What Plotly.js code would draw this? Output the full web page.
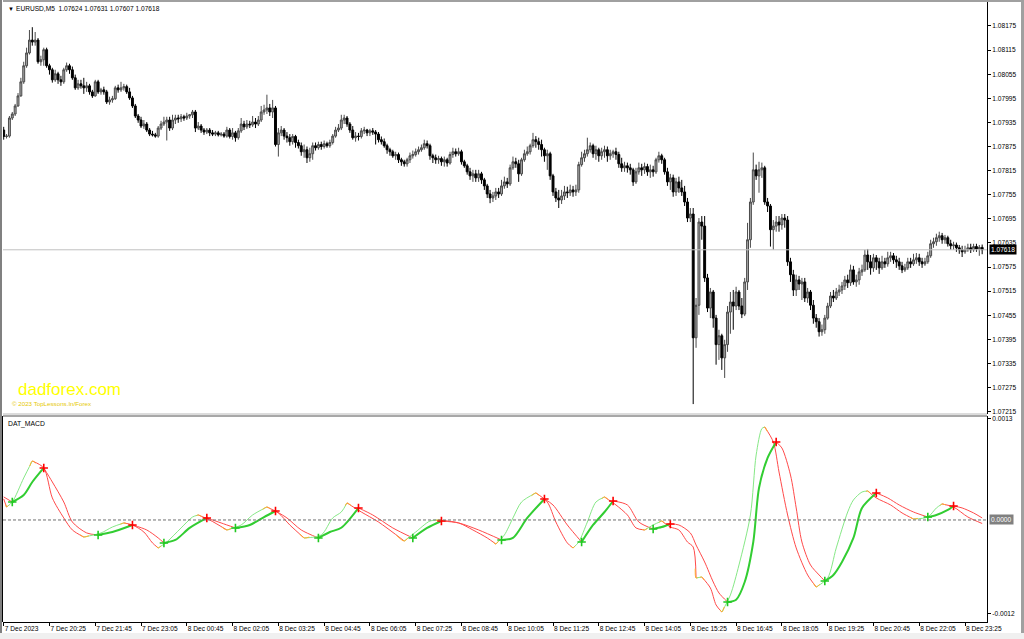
<!DOCTYPE html>
<html><head><meta charset="utf-8">
<script src="https://cdn.plot.ly/plotly-3.0.1.min.js"></script>
<style>html,body{margin:0;padding:0;background:#fff;overflow:hidden}#chart{width:1024px;height:639px}</style>
</head><body><div id="chart"></div>
<script>
// ---------------- DATA ----------------
const symbolTitle = "EURUSD,M5  1.07624 1.07631 1.07607 1.07618";
const lastPrice = 1.07618;

const openPrice = [
1.07916,1.07900,1.07901,1.07946,1.07956,1.07976,1.08001,1.08036,1.08076,1.08108,
1.08140,1.08135,1.08140,1.08086,1.08091,1.08116,1.08076,1.08066,1.08041,1.08056,
1.08041,1.08036,1.08066,1.08076,1.08066,1.08046,1.08021,1.08031,1.08026,1.08021,
1.08026,1.08011,1.08001,1.08036,1.08011,1.08016,1.08011,1.07986,1.07991,1.07994,
1.08021,1.08016,1.08021,1.08024,1.08011,1.07996,1.07976,1.07951,1.07941,1.07926,
1.07931,1.07916,1.07906,1.07904,1.07901,1.07921,1.07931,1.07936,1.07941,1.07921,
1.07941,1.07946,1.07944,1.07949,1.07946,1.07951,1.07954,1.07961,1.07921,1.07926,
1.07916,1.07911,1.07916,1.07909,1.07906,1.07909,1.07904,1.07906,1.07901,1.07916,
1.07900,1.07909,1.07897,1.07914,1.07931,1.07924,1.07931,1.07929,1.07936,1.07931,
1.07941,1.07961,1.07966,1.07971,1.07961,1.07971,1.07880,1.07909,1.07916,1.07901,
1.07897,1.07887,1.07900,1.07885,1.07877,1.07862,1.07867,1.07847,1.07857,1.07877,
1.07872,1.07880,1.07875,1.07882,1.07877,1.07885,1.07901,1.07916,1.07921,1.07941,
1.07946,1.07931,1.07916,1.07897,1.07901,1.07900,1.07914,1.07916,1.07909,1.07914,
1.07911,1.07906,1.07892,1.07887,1.07877,1.07867,1.07862,1.07852,1.07855,1.07842,
1.07837,1.07832,1.07842,1.07852,1.07855,1.07862,1.07867,1.07872,1.07882,1.07877,
1.07852,1.07847,1.07842,1.07845,1.07837,1.07842,1.07834,1.07855,1.07862,1.07857,
1.07862,1.07837,1.07827,1.07812,1.07802,1.07807,1.07797,1.07807,1.07792,1.07777,
1.07757,1.07747,1.07752,1.07762,1.07757,1.07777,1.07787,1.07782,1.07822,1.07837,
1.07832,1.07807,1.07842,1.07857,1.07862,1.07877,1.07892,1.07887,1.07880,1.07867,
1.07852,1.07857,1.07802,1.07762,1.07747,1.07742,1.07752,1.07762,1.07760,1.07767,
1.07762,1.07767,1.07830,1.07847,1.07857,1.07867,1.07877,1.07857,1.07867,1.07852,
1.07862,1.07867,1.07852,1.07857,1.07862,1.07855,1.07832,1.07822,1.07827,1.07822,
1.07817,1.07787,1.07812,1.07822,1.07817,1.07825,1.07812,1.07817,1.07812,1.07842,
1.07852,1.07842,1.07812,1.07787,1.07797,1.07762,1.07787,1.07772,1.07762,1.07737,
1.07697,1.07707,1.07399,1.07480,1.07687,1.07677,1.07548,1.07473,1.07513,1.07448,
1.07382,1.07404,1.07349,1.07382,1.07463,1.07488,1.07478,1.07513,1.07478,1.07458,
1.07538,1.07643,1.07737,1.07817,1.07802,1.07817,1.07822,1.07737,1.07727,1.07668,
1.07677,1.07687,1.07680,1.07697,1.07692,1.07588,1.07556,1.07518,1.07543,1.07533,
1.07538,1.07498,1.07513,1.07480,1.07448,1.07439,1.07414,1.07419,1.07448,1.07478,
1.07503,1.07498,1.07513,1.07518,1.07528,1.07543,1.07536,1.07568,1.07538,1.07543,
1.07563,1.07568,1.07605,1.07588,1.07573,1.07598,1.07588,1.07573,1.07588,1.07583,
1.07598,1.07603,1.07593,1.07588,1.07578,1.07568,1.07573,1.07588,1.07583,1.07593,
1.07598,1.07588,1.07583,1.07588,1.07603,1.07633,1.07638,1.07648,1.07653,1.07643,
1.07648,1.07633,1.07628,1.07630,1.07623,1.07618,1.07613,1.07618,1.07623,1.07618,
1.07626,1.07620,1.07624];

const highPrice = [
1.07924,1.07906,1.07951,1.07961,1.07981,1.08008,1.08046,1.08086,1.08121,1.08165,
1.08172,1.08160,1.08145,1.08101,1.08121,1.08121,1.08081,1.08071,1.08066,1.08061,
1.08051,1.08071,1.08084,1.08081,1.08074,1.08054,1.08041,1.08041,1.08046,1.08036,
1.08031,1.08016,1.08041,1.08041,1.08021,1.08024,1.08016,1.07999,1.08001,1.08026,
1.08029,1.08036,1.08031,1.08029,1.08021,1.08001,1.07981,1.07956,1.07949,1.07941,
1.07936,1.07921,1.07914,1.07909,1.07926,1.07939,1.07949,1.07949,1.07949,1.07954,
1.07954,1.07954,1.07956,1.07954,1.07959,1.07956,1.07966,1.07966,1.07936,1.07931,
1.07921,1.07921,1.07921,1.07916,1.07914,1.07914,1.07911,1.07911,1.07924,1.07921,
1.07921,1.07914,1.07921,1.07946,1.07939,1.07941,1.07939,1.07951,1.07946,1.07951,
1.07976,1.07979,1.08004,1.07981,1.07991,1.07976,1.07921,1.07926,1.07921,1.07911,
1.07906,1.07906,1.07904,1.07892,1.07885,1.07880,1.07875,1.07872,1.07885,1.07885,
1.07887,1.07887,1.07890,1.07887,1.07892,1.07906,1.07924,1.07931,1.07954,1.07954,
1.07951,1.07936,1.07926,1.07911,1.07909,1.07921,1.07924,1.07919,1.07919,1.07921,
1.07916,1.07911,1.07900,1.07895,1.07882,1.07872,1.07867,1.07862,1.07860,1.07847,
1.07842,1.07847,1.07860,1.07865,1.07870,1.07875,1.07880,1.07892,1.07890,1.07882,
1.07857,1.07855,1.07852,1.07850,1.07850,1.07847,1.07862,1.07872,1.07870,1.07872,
1.07867,1.07842,1.07832,1.07822,1.07817,1.07817,1.07817,1.07812,1.07797,1.07782,
1.07767,1.07762,1.07772,1.07772,1.07792,1.07800,1.07797,1.07830,1.07850,1.07847,
1.07842,1.07847,1.07867,1.07875,1.07882,1.07909,1.07901,1.07897,1.07892,1.07872,
1.07867,1.07862,1.07807,1.07772,1.07767,1.07767,1.07777,1.07775,1.07780,1.07777,
1.07780,1.07837,1.07862,1.07867,1.07897,1.07885,1.07882,1.07877,1.07872,1.07872,
1.07877,1.07875,1.07867,1.07867,1.07872,1.07862,1.07847,1.07837,1.07835,1.07832,
1.07822,1.07822,1.07835,1.07832,1.07835,1.07832,1.07830,1.07827,1.07847,1.07862,
1.07857,1.07847,1.07822,1.07807,1.07805,1.07797,1.07800,1.07792,1.07777,1.07747,
1.07722,1.07722,1.07498,1.07697,1.07702,1.07702,1.07558,1.07523,1.07518,1.07456,
1.07419,1.07409,1.07394,1.07478,1.07513,1.07518,1.07526,1.07518,1.07498,1.07548,
1.07685,1.07747,1.07860,1.07830,1.07837,1.07835,1.07827,1.07747,1.07732,1.07692,
1.07702,1.07702,1.07707,1.07707,1.07702,1.07598,1.07568,1.07556,1.07553,1.07548,
1.07548,1.07523,1.07518,1.07493,1.07458,1.07448,1.07432,1.07456,1.07486,1.07513,
1.07518,1.07523,1.07531,1.07538,1.07553,1.07556,1.07581,1.07578,1.07556,1.07573,
1.07581,1.07618,1.07620,1.07605,1.07608,1.07605,1.07598,1.07603,1.07598,1.07613,
1.07613,1.07610,1.07603,1.07598,1.07588,1.07583,1.07598,1.07598,1.07608,1.07610,
1.07608,1.07598,1.07598,1.07613,1.07643,1.07648,1.07658,1.07663,1.07660,1.07655,
1.07653,1.07643,1.07638,1.07636,1.07630,1.07628,1.07628,1.07633,1.07633,1.07633,
1.07633,1.07630,1.07631];

const lowPrice = [
1.07892,1.07895,1.07897,1.07941,1.07951,1.07974,1.07999,1.08031,1.08071,1.08104,
1.08126,1.08126,1.08081,1.08076,1.08076,1.08071,1.08054,1.08034,1.08036,1.08031,
1.08026,1.08031,1.08061,1.08056,1.08041,1.08016,1.08016,1.08019,1.08006,1.08011,
1.08004,1.07996,1.07999,1.08006,1.08004,1.08004,1.07981,1.07979,1.07984,1.07991,
1.08009,1.08011,1.08014,1.08006,1.07991,1.07971,1.07946,1.07934,1.07921,1.07919,
1.07911,1.07901,1.07900,1.07897,1.07897,1.07916,1.07926,1.07890,1.07914,1.07916,
1.07931,1.07934,1.07936,1.07939,1.07941,1.07944,1.07946,1.07911,1.07916,1.07909,
1.07904,1.07906,1.07901,1.07901,1.07901,1.07900,1.07900,1.07897,1.07897,1.07895,
1.07892,1.07887,1.07892,1.07909,1.07916,1.07919,1.07921,1.07924,1.07921,1.07926,
1.07936,1.07954,1.07956,1.07951,1.07946,1.07875,1.07850,1.07901,1.07892,1.07885,
1.07877,1.07880,1.07872,1.07870,1.07852,1.07847,1.07834,1.07837,1.07842,1.07865,
1.07867,1.07867,1.07870,1.07872,1.07872,1.07880,1.07897,1.07911,1.07916,1.07931,
1.07924,1.07909,1.07892,1.07887,1.07890,1.07895,1.07906,1.07901,1.07901,1.07904,
1.07880,1.07885,1.07880,1.07872,1.07857,1.07852,1.07847,1.07842,1.07834,1.07827,
1.07825,1.07825,1.07834,1.07845,1.07850,1.07855,1.07862,1.07867,1.07870,1.07842,
1.07834,1.07832,1.07832,1.07827,1.07825,1.07825,1.07830,1.07847,1.07850,1.07852,
1.07830,1.07822,1.07805,1.07792,1.07787,1.07787,1.07787,1.07782,1.07767,1.07747,
1.07734,1.07737,1.07742,1.07747,1.07752,1.07770,1.07772,1.07777,1.07817,1.07822,
1.07787,1.07802,1.07837,1.07852,1.07855,1.07872,1.07872,1.07867,1.07850,1.07837,
1.07817,1.07792,1.07752,1.07737,1.07722,1.07732,1.07742,1.07747,1.07752,1.07750,
1.07752,1.07760,1.07825,1.07837,1.07850,1.07860,1.07847,1.07842,1.07837,1.07842,
1.07847,1.07837,1.07842,1.07847,1.07842,1.07822,1.07812,1.07812,1.07810,1.07805,
1.07777,1.07782,1.07805,1.07802,1.07807,1.07802,1.07797,1.07800,1.07807,1.07835,
1.07832,1.07805,1.07777,1.07767,1.07750,1.07752,1.07760,1.07752,1.07727,1.07687,
1.07687,1.07234,1.07374,1.07456,1.07643,1.07538,1.07463,1.07448,1.07424,1.07332,
1.07344,1.07319,1.07299,1.07364,1.07409,1.07419,1.07468,1.07468,1.07448,1.07453,
1.07518,1.07623,1.07730,1.07792,1.07760,1.07797,1.07730,1.07712,1.07626,1.07618,
1.07663,1.07663,1.07668,1.07673,1.07578,1.07538,1.07503,1.07503,1.07518,1.07493,
1.07488,1.07486,1.07468,1.07434,1.07424,1.07402,1.07404,1.07409,1.07444,1.07473,
1.07488,1.07493,1.07503,1.07508,1.07518,1.07523,1.07528,1.07531,1.07526,1.07531,
1.07553,1.07563,1.07568,1.07556,1.07563,1.07568,1.07558,1.07568,1.07573,1.07576,
1.07588,1.07583,1.07573,1.07568,1.07560,1.07563,1.07568,1.07573,1.07578,1.07583,
1.07578,1.07573,1.07578,1.07583,1.07598,1.07623,1.07628,1.07638,1.07633,1.07633,
1.07626,1.07618,1.07618,1.07613,1.07608,1.07600,1.07608,1.07613,1.07610,1.07613,
1.07613,1.07603,1.07607];

const closePrice = [
1.07900,1.07901,1.07946,1.07956,1.07976,1.08001,1.08036,1.08076,1.08108,1.08140,
1.08135,1.08140,1.08086,1.08091,1.08116,1.08076,1.08066,1.08041,1.08056,1.08041,
1.08036,1.08066,1.08076,1.08066,1.08046,1.08021,1.08031,1.08026,1.08021,1.08026,
1.08011,1.08001,1.08036,1.08011,1.08016,1.08011,1.07986,1.07991,1.07994,1.08021,
1.08016,1.08021,1.08024,1.08011,1.07996,1.07976,1.07951,1.07941,1.07926,1.07931,
1.07916,1.07906,1.07904,1.07901,1.07921,1.07931,1.07936,1.07941,1.07921,1.07941,
1.07946,1.07944,1.07949,1.07946,1.07951,1.07954,1.07961,1.07921,1.07926,1.07916,
1.07911,1.07916,1.07909,1.07906,1.07909,1.07904,1.07906,1.07901,1.07916,1.07900,
1.07909,1.07897,1.07914,1.07931,1.07924,1.07931,1.07929,1.07936,1.07931,1.07941,
1.07961,1.07966,1.07971,1.07961,1.07971,1.07880,1.07909,1.07916,1.07901,1.07897,
1.07887,1.07900,1.07885,1.07877,1.07862,1.07867,1.07847,1.07857,1.07877,1.07872,
1.07880,1.07875,1.07882,1.07877,1.07885,1.07901,1.07916,1.07921,1.07941,1.07946,
1.07931,1.07916,1.07897,1.07901,1.07900,1.07914,1.07916,1.07909,1.07914,1.07911,
1.07906,1.07892,1.07887,1.07877,1.07867,1.07862,1.07852,1.07855,1.07842,1.07837,
1.07832,1.07842,1.07852,1.07855,1.07862,1.07867,1.07872,1.07882,1.07877,1.07852,
1.07847,1.07842,1.07845,1.07837,1.07842,1.07834,1.07855,1.07862,1.07857,1.07862,
1.07837,1.07827,1.07812,1.07802,1.07807,1.07797,1.07807,1.07792,1.07777,1.07757,
1.07747,1.07752,1.07762,1.07757,1.07777,1.07787,1.07782,1.07822,1.07837,1.07832,
1.07807,1.07842,1.07857,1.07862,1.07877,1.07892,1.07887,1.07880,1.07867,1.07852,
1.07857,1.07802,1.07762,1.07747,1.07742,1.07752,1.07762,1.07760,1.07767,1.07762,
1.07767,1.07830,1.07847,1.07857,1.07867,1.07877,1.07857,1.07867,1.07852,1.07862,
1.07867,1.07852,1.07857,1.07862,1.07855,1.07832,1.07822,1.07827,1.07822,1.07817,
1.07787,1.07812,1.07822,1.07817,1.07825,1.07812,1.07817,1.07812,1.07842,1.07852,
1.07842,1.07812,1.07787,1.07797,1.07762,1.07787,1.07772,1.07762,1.07737,1.07697,
1.07707,1.07399,1.07480,1.07687,1.07677,1.07548,1.07473,1.07513,1.07448,1.07382,
1.07404,1.07349,1.07382,1.07463,1.07488,1.07478,1.07513,1.07478,1.07458,1.07538,
1.07643,1.07737,1.07817,1.07802,1.07817,1.07822,1.07737,1.07727,1.07668,1.07677,
1.07687,1.07680,1.07697,1.07692,1.07588,1.07556,1.07518,1.07543,1.07533,1.07538,
1.07498,1.07513,1.07480,1.07448,1.07439,1.07414,1.07419,1.07448,1.07478,1.07503,
1.07498,1.07513,1.07518,1.07528,1.07543,1.07536,1.07568,1.07538,1.07543,1.07563,
1.07568,1.07605,1.07588,1.07573,1.07598,1.07588,1.07573,1.07588,1.07583,1.07598,
1.07603,1.07593,1.07588,1.07578,1.07568,1.07573,1.07588,1.07583,1.07593,1.07598,
1.07588,1.07583,1.07588,1.07603,1.07633,1.07638,1.07648,1.07653,1.07643,1.07648,
1.07633,1.07628,1.07630,1.07623,1.07618,1.07613,1.07618,1.07623,1.07618,1.07626,
1.07620,1.07624,1.07618];

// MACD (fast line, leading) sampled at bar indices
const macdIdx = [0,1,3,7,10,14,17,21,24,28,34,38,42,45,49,52,54,57,62,66,68,72,78,83,87,92,96,100,105,111,115,118,120,125,131,140,144,149,152,159,164,169,172,175,178,181,186,190,193,197,199,201,204,207,210,214,218,221,224,227,230,233,236,239,241,242,244,247,249,251,254,257,261,263,265,266,269,271,274,277,281,284,288,291,295,297,300,302,305,310,314,318,323,326,328,332,337,342];
const macdVal = [0.00027,0.000166,0.00023,0.000538,0.000755,0.000666,0.000282,0.000026,-0.000128,-0.000218,-0.000166,-0.00009,-0.000038,-0.000064,-0.000154,-0.000294,-0.000358,-0.000282,-0.000102,0.000038,0.000064,0,-0.000128,-0.000064,0.000064,0.000166,0.00009,-0.000064,-0.00023,-0.000192,0.000026,0.000102,0.000218,0.000102,-0.000026,-0.000269,-0.000154,-0.000013,0.0,-0.000038,-0.000128,-0.00023,-0.000307,-0.000192,0.000026,0.00023,0.000346,0.00023,-0.000026,-0.000294,-0.000358,-0.000282,-0.000026,0.00023,0.000294,0.000192,0.000064,-0.000102,-0.000128,-0.000064,-0.000013,-0.00009,-0.000128,-0.000282,-0.000346,-0.000742,-0.00073,-0.00087,-0.001088,-0.001178,-0.00096,-0.000576,0.000064,0.000832,0.00117,0.00119,0.000998,0.000614,0.000064,-0.000358,-0.000704,-0.000858,-0.000742,-0.000358,0.000102,0.000256,0.000358,0.000371,0.000282,0.000192,0.00009,0.000013,0.000038,0.000154,0.000205,0.000166,0.000038,-0.000045];
// Signal line (lagging) sampled at bar indices
const signalIdx = [0,3,7,10,14,17,21,24,29,33,38,45,50,54,56,60,65,71,76,81,86,91,95,99,104,110,114,118,124,129,136,143,148,153,159,166,174,178,183,189,192,197,202,206,210,213,218,222,227,230,233,236,240,242,245,248,250,253,256,259,262,264,267,270,272,275,277,279,282,285,287,290,293,297,300,305,309,313,318,323,326,330,332,335,339,342];
const signalVal = [0.000295,0.00023,0.00032,0.000486,0.000666,0.000486,0.00023,-0.000026,-0.000166,-0.000192,-0.000154,-0.000064,-0.000128,-0.00023,-0.000294,-0.000256,-0.000102,0.000026,-0.000038,-0.000102,-0.000064,0.000038,0.000115,0.000026,-0.000128,-0.00023,-0.000154,-0.0001,0.000154,0.000064,-0.000102,-0.00023,-0.000102,-0.000013,-0.000038,-0.000128,-0.000256,-0.00023,0.000026,0.000269,0.000192,-0.000064,-0.000282,-0.000064,0.000102,0.000243,0.000192,-0.000026,-0.000115,-0.00009,-0.000051,-0.000064,-0.000166,-0.00032,-0.000538,-0.000794,-0.000934,-0.00105,-0.00102,-0.000794,-0.000282,0.00041,0.000794,0.000998,0.000922,0.000576,0.000154,-0.000282,-0.000576,-0.000704,-0.000781,-0.000704,-0.000538,-0.00023,0.000154,0.000346,0.000282,0.000192,0.000102,0.000038,0.000064,0.000128,0.000179,0.000154,0.00009,0.000026];

const timeTickIdx = [0,16,32,48,64,80,96,112,128,144,160,176,192,208,224,240,256,272,288,304,320,336];
const timeTickText = ['7 Dec 2023','7 Dec 20:25','7 Dec 21:45','7 Dec 23:05','8 Dec 00:45','8 Dec 02:05','8 Dec 03:25','8 Dec 04:45','8 Dec 06:05','8 Dec 07:25','8 Dec 08:45','8 Dec 10:05','8 Dec 11:25','8 Dec 12:45','8 Dec 14:05','8 Dec 15:25','8 Dec 16:45','8 Dec 18:05','8 Dec 19:25','8 Dec 20:45','8 Dec 22:05','8 Dec 23:25'];
const priceTickVals = [1.08175,1.08115,1.08055,1.07995,1.07935,1.07875,1.07815,1.07755,1.07695,1.07635,1.07575,1.07515,1.07455,1.07395,1.07335,1.07275,1.07215];
const priceTickText = ['1.08175','1.08115','1.08055','1.07995','1.07935','1.07875','1.07815','1.07755','1.07695','1.07635','1.07575','1.07515','1.07455','1.07395','1.07335','1.07275','1.07215'];
const macdTickVals = [0.0013, -0.0012];
const macdTickText = ['0.0013', '-0.0012'];

// ---------------- RENDER ----------------
const N = closePrice.length;
const barIdx = Array.from({length: N}, (_, i) => i);
const PL = 3, PR = 987, PT = 2, PB = 622;
const px = x => (x - PL) / (PR - PL);
const py = y => (PB - y) / (PB - PT);
const FONT = 'Liberation Sans, Arial, sans-serif';

function runs(idx, val) {
  const out = []; let cur = null;
  for (let k = 0; k < idx.length - 1; k++) {
    let d = val[k + 1] > val[k] ? 1 : (val[k + 1] < val[k] ? -1 : (cur ? cur.dir : 1));
    if (!cur || cur.dir !== d) { cur = {dir: d, x: [idx[k]], y: [val[k]]}; out.push(cur); }
    cur.x.push(idx[k + 1]); cur.y.push(val[k + 1]);
  }
  return out;
}

const traces = [];
traces.push({
  type: 'candlestick', x: barIdx, open: openPrice, high: highPrice, low: lowPrice, close: closePrice,
  xaxis: 'x', yaxis: 'y', whiskerwidth: 0, hoverinfo: 'skip', showlegend: false,
  increasing: {line: {color: '#4a4a4a', width: 1}, fillcolor: '#a8a8a8'},
  decreasing: {line: {color: '#000000', width: 1}, fillcolor: '#000000'}
});

const fastRuns = runs(macdIdx, macdVal);
const slowRuns = runs(signalIdx, signalVal);

slowRuns.filter(r => r.dir < 0).forEach(r => traces.push({
  type: 'scatter', mode: 'lines', x: r.x, y: r.y, xaxis: 'x', yaxis: 'y2', hoverinfo: 'skip', showlegend: false,
  line: {color: '#ff4a4a', width: 1, shape: 'spline', smoothing: 0.8}
}));
fastRuns.forEach(r => traces.push({
  type: 'scatter', mode: 'lines', x: r.x, y: r.y, xaxis: 'x', yaxis: 'y2', hoverinfo: 'skip', showlegend: false,
  line: {color: r.dir > 0 ? '#86e886' : '#ff4a4a', width: 1, shape: 'spline', smoothing: 0.8}
}));
for (let r = 1; r < fastRuns.length; r++) {
  const prev = fastRuns[r - 1], cur = fastRuns[r];
  const xe = cur.x[0], ye = cur.y[0];
  const xp = prev.x[prev.x.length - 2], yp = prev.y[prev.y.length - 2];
  const xn = cur.x[1], yn = cur.y[1];
  const f = 0.3;
  traces.push({
    type: 'scatter', mode: 'lines', xaxis: 'x', yaxis: 'y2', hoverinfo: 'skip', showlegend: false,
    x: [xe + (xp - xe) * f, xe, xe + (xn - xe) * f], y: [ye + (yp - ye) * f, ye, ye + (yn - ye) * f],
    line: {color: '#ffb030', width: 1, shape: 'spline'}
  });
}
slowRuns.filter(r => r.dir > 0).forEach(r => traces.push({
  type: 'scatter', mode: 'lines', x: r.x, y: r.y, xaxis: 'x', yaxis: 'y2', hoverinfo: 'skip', showlegend: false,
  line: {color: '#32cd32', width: 2, shape: 'spline', smoothing: 0.8}
}));
const upX = [], upY = [], dnX = [], dnY = [];
for (let r = 1; r < slowRuns.length; r++) {
  const c = slowRuns[r];
  if (c.dir > 0) { upX.push(c.x[0]); upY.push(c.y[0]); } else { dnX.push(c.x[0]); dnY.push(c.y[0]); }
}
traces.push({type: 'scatter', mode: 'markers', x: upX, y: upY, xaxis: 'x', yaxis: 'y2', hoverinfo: 'skip', showlegend: false,
  marker: {symbol: 'cross-thin', size: 6, line: {color: '#22c822', width: 1.6}}});
traces.push({type: 'scatter', mode: 'markers', x: dnX, y: dnY, xaxis: 'x', yaxis: 'y2', hoverinfo: 'skip', showlegend: false,
  marker: {symbol: 'cross-thin', size: 6, line: {color: '#ff0000', width: 1.6}}});

const txt = (x, y, text, size, color, extra) => Object.assign({
  xref: 'paper', yref: 'paper', x: px(x), y: py(y), text: text, showarrow: false, xanchor: 'left', yanchor: 'middle',
  font: {family: FONT, size: size, color: color}
}, extra || {});

const layout = {
  width: 1024, height: 639,
  margin: {l: PL, r: 1024 - PR, t: PT, b: 639 - PB, pad: 0},
  paper_bgcolor: '#ffffff', plot_bgcolor: '#ffffff', showlegend: false,
  boxgap: 0.05,
  font: {family: FONT, size: 7, color: '#000'},
  xaxis: {range: [-0.245, 343.69], anchor: 'y2', showgrid: false, zeroline: false, showline: true, linecolor: '#000', linewidth: 1,
    ticks: 'outside', ticklen: 3, tickcolor: '#000', tickvals: timeTickIdx, ticktext: timeTickText,
    ticklabelposition: 'outside right', tickfont: {family: FONT, size: 6.6, color: '#000'}, rangeslider: {visible: false}, fixedrange: true},
  yaxis: {domain: [py(414), 1], range: [1.072093, 1.082347], side: 'right', anchor: 'x', showgrid: false, zeroline: false,
    showline: true, linecolor: '#000', linewidth: 1, ticks: 'outside', ticklen: 3, tickcolor: '#000',
    tickvals: priceTickVals, ticktext: priceTickText, tickfont: {family: FONT, size: 6.6, color: '#000'}, fixedrange: true},
  yaxis2: {domain: [0, py(416)], range: [-0.001306, 0.001331], side: 'right', anchor: 'x', showgrid: false, zeroline: false,
    showline: true, linecolor: '#000', linewidth: 1, ticks: 'outside', ticklen: 3, tickcolor: '#000',
    tickvals: macdTickVals, ticktext: macdTickText, tickfont: {family: FONT, size: 6.6, color: '#000'}, fixedrange: true},
  shapes: [
    {type: 'line', xref: 'paper', yref: 'y', x0: 0, x1: 1, y0: lastPrice, y1: lastPrice, line: {color: '#c0c0c0', width: 1}},
    {type: 'line', xref: 'paper', yref: 'y2', x0: 0, x1: 1, y0: 0, y1: 0, line: {color: '#707070', width: 1, dash: '3px,2px'}},
    {type: 'line', xref: 'paper', yref: 'paper', x0: 0, x1: 1, y0: py(414), y1: py(414), line: {color: '#b8b8b8', width: 1}},
    {type: 'line', xref: 'paper', yref: 'paper', x0: 0, x1: 1, y0: py(416), y1: py(416), line: {color: '#505050', width: 1}},
    {type: 'line', xref: 'paper', yref: 'paper', x0: px(2.5), x1: px(2.5), y0: py(416), y1: py(622), line: {color: '#000', width: 1}},
    {type: 'line', xref: 'paper', yref: 'paper', x0: 0, x1: px(1024), y0: py(1), y1: py(1), line: {color: '#a0a0a0', width: 2}},
    {type: 'line', xref: 'paper', yref: 'paper', x0: px(1), x1: px(1), y0: py(0), y1: py(634), line: {color: '#808080', width: 2}},
    {type: 'line', xref: 'paper', yref: 'paper', x0: px(1022.5), x1: px(1022.5), y0: py(0), y1: py(634), line: {color: '#a0a0a0', width: 3}},
    {type: 'rect', xref: 'paper', yref: 'paper', x0: px(0), x1: px(1024), y0: py(633), y1: py(639), fillcolor: '#f0f0f0', line: {width: 0}}
  ],
  annotations: [
    txt(6, 9, '▼', 6, '#000'),
    txt(14, 9, symbolTitle, 6.6, '#000'),
    txt(16, 390, 'dadforex.com', 17, '#ffff00'),
    txt(10, 403.5, '© 2023 TopLessons.In/Forex', 6.2, '#e6c800'),
    txt(6, 423.5, 'DAT_MACD', 6.8, '#000'),
    {xref: 'paper', yref: 'y', x: 1, y: lastPrice, xshift: 2, text: '1.07618', showarrow: false, xanchor: 'left', yanchor: 'middle',
      bgcolor: '#000', borderpad: 1, font: {family: FONT, size: 6.6, color: '#fff'}},
    {xref: 'paper', yref: 'y2', x: 1, y: 0, xshift: 2, text: '0.0000', showarrow: false, xanchor: 'left', yanchor: 'middle',
      bgcolor: '#808080', borderpad: 1, font: {family: FONT, size: 6.6, color: '#fff'}}
  ]
};

Plotly.newPlot('chart', traces, layout, {staticPlot: true, displayModeBar: false});
</script>
</body></html>
